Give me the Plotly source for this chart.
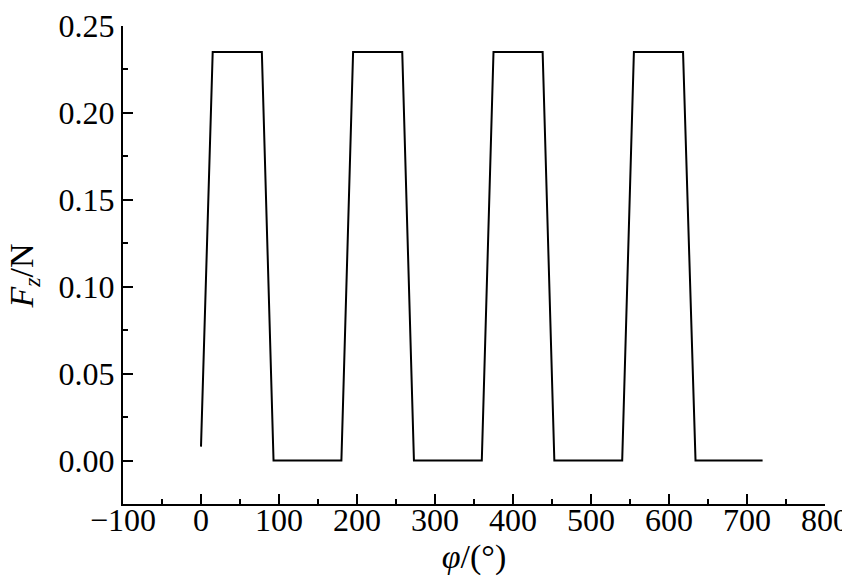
import plotly.graph_objects as go

phi = [0, 15, 78, 93, 180, 195, 258, 273, 360, 375, 438, 453, 540, 555, 618, 634, 720]
fz = [0.008, 0.235, 0.235, 0.0, 0.0, 0.235, 0.235, 0.0, 0.0, 0.235, 0.235, 0.0, 0.0, 0.235, 0.235, 0.0, 0.0]

x_ticks = [-100, 0, 100, 200, 300, 400, 500, 600, 700, 800]
y_ticks = [0.00, 0.05, 0.10, 0.15, 0.20, 0.25]

FONT = "Liberation Serif, Times New Roman, serif"
FS = 32

fig = go.Figure()
fig.add_trace(go.Scatter(x=phi, y=fz, mode="lines",
                         line=dict(color="black", width=2), showlegend=False))

axis_common = dict(
    showline=True, linecolor="black", linewidth=2, mirror=False,
    showgrid=False, zeroline=False, automargin=False,
    ticks="inside", ticklen=10, tickwidth=2, tickcolor="black",
    ticklabeloverflow="allow",
    tickfont=dict(family=FONT, size=FS, color="black"),
)

fig.update_xaxes(range=[-100, 800], tickvals=x_ticks, ticklabelstandoff=-13,
                 minor=dict(ticks="inside", ticklen=5, tickwidth=2, dtick=50, tick0=0, tickcolor="black"),
                 title=dict(text="<i>φ</i>/(°)", font=dict(family=FONT, size=34, color="black"), standoff=4),
                 **axis_common)
fig.update_yaxes(range=[-0.025, 0.25], tickvals=y_ticks, tickformat=".2f",
                 minor=dict(ticks="inside", ticklen=5, tickwidth=2, dtick=0.025, tick0=0, tickcolor="black"),
                 **axis_common)

fig.add_annotation(text="<i>F</i><sub><i>z</i></sub>/N", textangle=-90,
                   xref="paper", yref="paper", x=0, y=0.476, xshift=-99,
                   xanchor="center", yanchor="middle", showarrow=False,
                   font=dict(family=FONT, size=34, color="black"))

fig.update_layout(
    width=842, height=571,
    margin=dict(l=115, r=25, t=18, b=75),
    plot_bgcolor="white", paper_bgcolor="white",
    font=dict(family=FONT, color="black"),
)

fig.write_html("out.html")
